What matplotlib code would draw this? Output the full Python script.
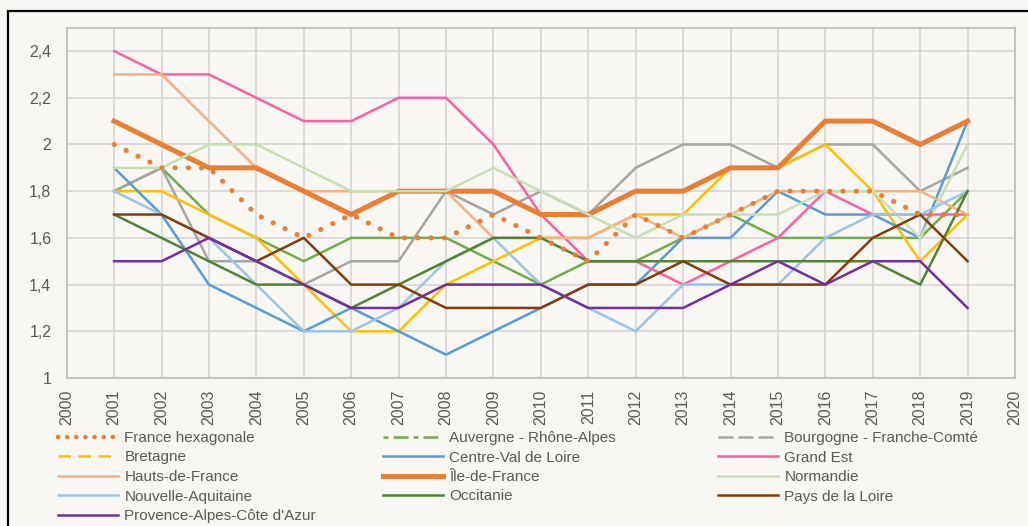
import matplotlib
matplotlib.use("Agg")
import matplotlib.pyplot as plt
from matplotlib.lines import Line2D
from matplotlib.patches import Rectangle
from matplotlib.ticker import FuncFormatter, MultipleLocator

plt.rcParams['font.family'] = ['Liberation Sans', 'DejaVu Sans']

years = list(range(2001, 2020))

france_hexagonale = [2.0, 1.9, 1.9, 1.7, 1.6, 1.7, 1.6, 1.6, 1.7, 1.6, 1.5, 1.7, 1.6, 1.7, 1.8, 1.8, 1.8, 1.7, 1.7]
auvergne_rhone_alpes = [1.8, 1.9, 1.7, 1.6, 1.5, 1.6, 1.6, 1.6, 1.5, 1.4, 1.5, 1.5, 1.6, 1.7, 1.6, 1.6, 1.6, 1.6, 1.8]
bourgogne_franche_comte = [1.8, 1.9, 1.5, 1.5, 1.4, 1.5, 1.5, 1.8, 1.7, 1.8, 1.7, 1.9, 2.0, 2.0, 1.9, 2.0, 2.0, 1.8, 1.9]
bretagne = [1.8, 1.8, 1.7, 1.6, 1.4, 1.2, 1.2, 1.4, 1.5, 1.6, 1.6, 1.7, 1.7, 1.9, 1.9, 2.0, 1.8, 1.5, 1.7]
centre_val_de_loire = [1.9, 1.7, 1.4, 1.3, 1.2, 1.3, 1.2, 1.1, 1.2, 1.3, 1.4, 1.4, 1.6, 1.6, 1.8, 1.7, 1.7, 1.6, 2.1]
grand_est = [2.4, 2.3, 2.3, 2.2, 2.1, 2.1, 2.2, 2.2, 2.0, 1.7, 1.5, 1.5, 1.4, 1.5, 1.6, 1.8, 1.7, 1.7, 1.7]
hauts_de_france = [2.3, 2.3, 2.1, 1.9, 1.8, 1.8, 1.8, 1.8, 1.6, 1.6, 1.6, 1.7, 1.6, 1.7, 1.8, 1.8, 1.8, 1.8, 1.7]
ile_de_france = [2.1, 2.0, 1.9, 1.9, 1.8, 1.7, 1.8, 1.8, 1.8, 1.7, 1.7, 1.8, 1.8, 1.9, 1.9, 2.1, 2.1, 2.0, 2.1]
normandie = [1.9, 1.9, 2.0, 2.0, 1.9, 1.8, 1.8, 1.8, 1.9, 1.8, 1.7, 1.6, 1.7, 1.7, 1.7, 1.8, 1.8, 1.6, 2.0]
nouvelle_aquitaine = [1.8, 1.7, 1.6, 1.4, 1.2, 1.2, 1.3, 1.5, 1.6, 1.4, 1.3, 1.2, 1.4, 1.4, 1.4, 1.6, 1.7, 1.7, 1.8]
occitanie = [1.7, 1.6, 1.5, 1.4, 1.4, 1.3, 1.4, 1.5, 1.6, 1.6, 1.5, 1.5, 1.5, 1.5, 1.5, 1.5, 1.5, 1.4, 1.8]
pays_de_la_loire = [1.7, 1.7, 1.6, 1.5, 1.6, 1.4, 1.4, 1.3, 1.3, 1.3, 1.4, 1.4, 1.5, 1.4, 1.4, 1.4, 1.6, 1.7, 1.5]
provence_alpes_cote_azur = [1.5, 1.5, 1.6, 1.5, 1.4, 1.3, 1.3, 1.4, 1.4, 1.4, 1.3, 1.3, 1.3, 1.4, 1.5, 1.4, 1.5, 1.5, 1.3]

year_ticks = list(range(2000, 2021))

# (label, values, colour, width, plot style, legend dash pattern)
series = [
    ("France hexagonale", france_hexagonale, "#ed7d31", 3.6, "dot", None),
    ("Auvergne - Rhône-Alpes", auvergne_rhone_alpes, "#70ad47", 1.8, "-", (2, 2, 6, 2)),
    ("Bourgogne - Franche-Comté", bourgogne_franche_comte, "#a5a5a5", 1.8, "-", (6, 2, 6, 2)),
    ("Bretagne", bretagne, "#ffc000", 1.8, "-", (5, 3, 5, 3)),
    ("Centre-Val de Loire", centre_val_de_loire, "#5b9bd5", 1.8, "-", None),
    ("Grand Est", grand_est, "#ff5fa2", 1.8, "-", None),
    ("Hauts-de-France", hauts_de_france, "#f4b183", 1.8, "-", None),
    ("Île-de-France", ile_de_france, "#ed7d31", 3.6, "-", None),
    ("Normandie", normandie, "#c5e0b4", 1.8, "-", None),
    ("Nouvelle-Aquitaine", nouvelle_aquitaine, "#9dc3e6", 1.8, "-", None),
    ("Occitanie", occitanie, "#548235", 1.8, "-", None),
    ("Pays de la Loire", pays_de_la_loire, "#843c0c", 1.8, "-", None),
    ("Provence-Alpes-Côte d'Azur", provence_alpes_cote_azur, "#7030a0", 1.8, "-", None),
]

bg = "#f8f7f3"
text_col = "#595959"

fig = plt.figure(figsize=(10.28, 5.26), dpi=100, facecolor=bg)
ax = fig.add_axes([66.7 / 1028, 1 - 378 / 526, (1015 - 66.7) / 1028, (378 - 27.7) / 526])
ax.set_facecolor(bg)

handles = []
for i, (label, vals, col, lw, style, leg_dash) in enumerate(series):
    if style == "dot":
        ax.plot(years, vals, color=col, lw=lw, linestyle=(0, (0.05, 2.6)),
                dash_capstyle="round", solid_capstyle="round", zorder=20)
        h = Line2D([], [], color=col, lw=3.2, linestyle=(0, (0.05, 2.0)),
                   dash_capstyle="round")
    else:
        ax.plot(years, vals, color=col, lw=lw, solid_joinstyle="miter",
                zorder=5 + i)
        if leg_dash is not None:
            h = Line2D([], [], color=col, lw=lw, linestyle=(0, leg_dash))
        else:
            h = Line2D([], [], color=col, lw=lw)
    handles.append((h, label))

ax.set_xlim(2000, 2020)
ax.set_ylim(1, 2.5)
ax.set_xticks(year_ticks)
ax.set_xticklabels([str(y) for y in year_ticks], rotation=90)
ax.yaxis.set_major_locator(MultipleLocator(0.2))
ax.yaxis.set_major_formatter(FuncFormatter(
    lambda v, p: ("%g" % round(v, 1)).replace(".", ",") if v <= 2.41 else ""))

ax.grid(True, color="#d9d9d9", lw=1.3, zorder=0)
ax.set_axisbelow(True)
for s in ax.spines.values():
    s.set_color("#bfbfbf")
    s.set_linewidth(1.3)
ax.tick_params(axis="both", length=0, labelsize=11.5, colors=text_col)
ax.tick_params(axis="y", pad=11)
ax.tick_params(axis="x", pad=8.5)

# legend in three columns, filled row by row
cols = [handles[0::3], handles[1::3], handles[2::3]]
col_x = [58 / 1028, 383 / 1028, 718 / 1028]
for cx, entries in zip(col_x, cols):
    fig.legend([h for h, _ in entries], [l for _, l in entries],
               loc="upper left", bbox_to_anchor=(cx, 1 - 431 / 526),
               frameon=False, fontsize=11, labelcolor=text_col,
               handlelength=3.9, handletextpad=0.45, labelspacing=0.36,
               borderpad=0, borderaxespad=0)

# outer frame
fig.patches.append(Rectangle((8 / 1028, -0.2), 1.2, 1.2 - 11 / 526,
                             transform=fig.transFigure, fill=False,
                             ec="black", lw=1.6))

fig.savefig("out.png", dpi=100, facecolor=bg)
